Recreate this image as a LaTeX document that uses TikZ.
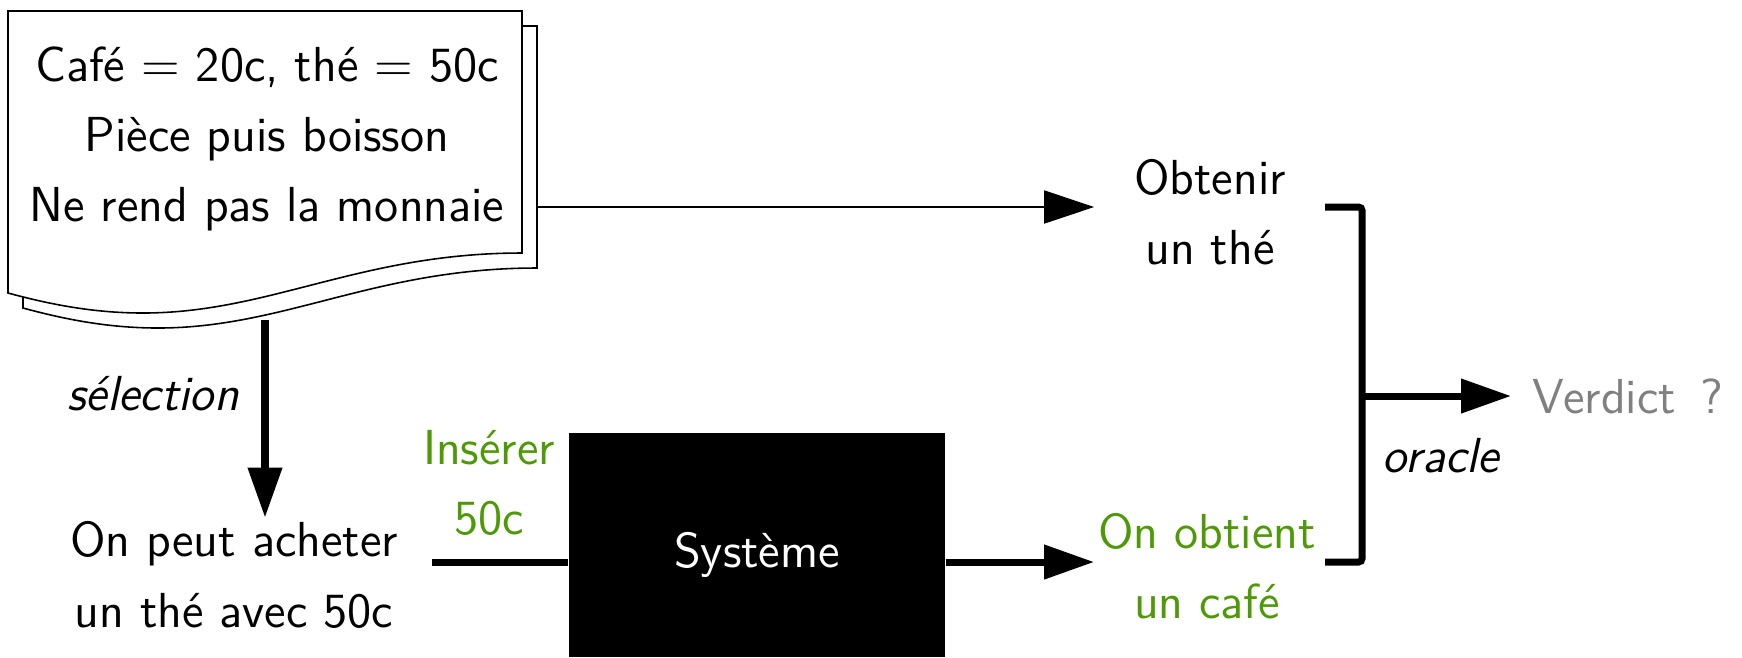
\documentclass[tikz,border=0pt]{standalone}
\usepackage{tikz}
\usetikzlibrary{positioning, arrows.meta}
\definecolor{resultGreen}{HTML}{4E9A06}
\definecolor{verdictGrey}{HTML}{808080}
\newcommand{\diagfont}{\sffamily\fontsize{14pt}{20pt}\selectfont}

\begin{document}
\begin{tikzpicture}[font=\diagfont,
  bigarrow/.style={-{Triangle[length=14.2pt,width=9.4pt]}},
  thickline/.style={line width=2pt},
  txt/.style={align=center, inner sep=1pt},
  sheet/.style={draw, fill=white, line width=0.45pt}]

\useasboundingbox (0,0) rectangle (17.42,-6.57);

% la spécification : deux feuilles
\begin{scope}[shift={(0.15,-0.15)}]
\draw[sheet] (0.08,-0.11) -- (5.22,-0.11) -- (5.22,-2.53)
  .. controls (3.6,-2.53) and (2.7,-3.13) .. (1.43,-3.13)
  .. controls (0.9,-3.13) and (0.45,-3.03) .. (0.08,-2.93) -- cycle;
\end{scope}
\draw[sheet] (0.08,-0.11) -- (5.22,-0.11) -- (5.22,-2.53)
  .. controls (3.6,-2.53) and (2.7,-3.13) .. (1.43,-3.13)
  .. controls (0.9,-3.13) and (0.45,-3.03) .. (0.08,-2.93) -- cycle;

\node[txt] (spec) at (2.67,-1.39)
  {Café $=$ 20c, thé $=$ 50c\\Pièce puis boisson\\Ne rend pas la monnaie};

% attendu et obtenu
\node[txt] (obtenir) at (12.10,-2.12) {Obtenir\\un thé};
\node[txt, text=resultGreen] (cafe) at (12.07,-5.66) {On obtient\\un café};
\node[txt] (achat) at (2.34,-5.75) {On peut acheter\\un thé avec 50c};
\node[txt, text=resultGreen] (inserer) at (4.89,-4.83) {Insérer\\50c};
\node[fill=black, minimum width=3.76cm, minimum height=2.24cm,
      inner sep=0pt] (sys) at (7.57,-5.45) {};
\node[txt, text=white] (systxt) at (7.57,-5.55) {Système};
\node[txt, text=verdictGrey, anchor=west, inner xsep=6pt] (verdict)
  at (15.11,-3.96) {Verdict\,\ ?};
\node[txt, font=\diagfont\itshape] (selection) at (1.53,-3.94) {sélection};
\node[txt, font=\diagfont\itshape] (oracle) at (14.41,-4.56) {oracle};

\coordinate (specout) at (5.37,-2.07);
\coordinate (selstart) at (2.65,-3.20);
\coordinate (entree) at (4.32,-5.62);
\coordinate (btop) at (13.25,-2.07);
\coordinate (bbot) at (13.25,-5.62);
\coordinate (join) at (13.62,-3.96);

\draw[bigarrow, line width=0.45pt] (specout) -- (specout -| cafe.west);
\draw[thickline, bigarrow] (selstart) -- (selstart |- achat.north);
\draw[thickline] (entree) -- (entree -| sys.west);
\draw[thickline, bigarrow] (entree -| sys.east) -- (entree -| cafe.west);
\draw[thickline, rounded corners=1pt] (btop) -| (join) |- (bbot);
\draw[thickline, bigarrow] (join) -- (verdict.west);
\end{tikzpicture}
\end{document}
